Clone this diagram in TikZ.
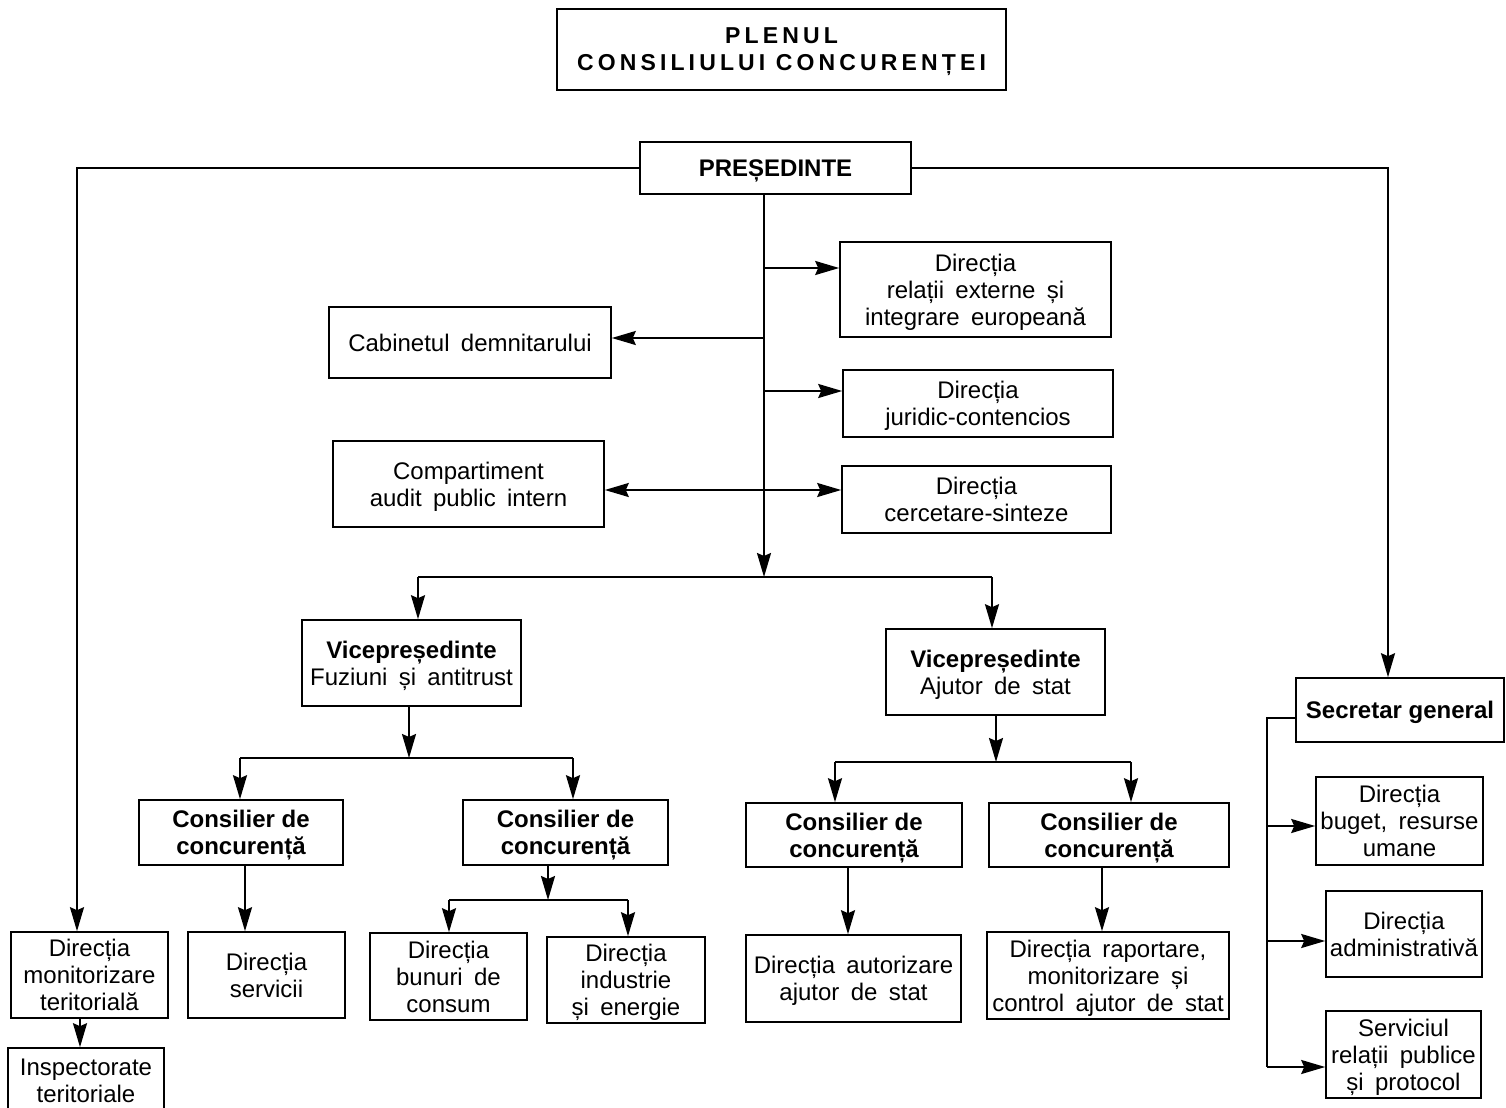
\documentclass[tikz,border=0pt]{standalone}
\usepackage{fontspec}
\setmainfont{Liberation Sans}[WordSpace=1.7,BoldFeatures={WordSpace=1}]
\usetikzlibrary{arrows.meta}

\begin{document}
\begin{tikzpicture}[x=0.5pt,y=-0.5pt,>={Stealth[length=12pt,width=7pt,inset=1.5pt]},
	box/.style={draw,line width=0.8pt,align=center,inner sep=1pt,text depth=0pt,font=\fontsize{12}{13.5}\selectfont},
	link/.style={line width=1pt}]
	\useasboundingbox (0,0) rectangle (1506,1108);
	% conducere
	\node[box,minimum width=224.5pt,minimum height=40.5pt,font=\fontsize{11.5}{13.5}\selectfont\bfseries\addfontfeature{LetterSpace=18}] (plen) at (781.5,49.5) {PLENUL\\CONSILIULUI CONCURENȚEI};
	\node[box,minimum width=135.5pt,minimum height=26pt,font=\fontsize{12}{13.5}\selectfont\bfseries] (pres) at (775.5,168) {PREȘEDINTE};
	% directii subordonate presedintelui
	\node[box,minimum width=135.5pt,minimum height=47.5pt] (relext) at (975.5,289.5) {Direcția\\relații externe și\\integrare europeană};
	\node[box,minimum width=141pt,minimum height=35.5pt] (cabinet) at (470,342.5) {Cabinetul demnitarului};
	\node[box,minimum width=135pt,minimum height=33.5pt] (juridic) at (978,403.5) {Direcția\\juridic-contencios};
	\node[box,minimum width=135.5pt,minimum height=43pt] (audit) at (468.5,484) {Compartiment\\audit public intern};
	\node[box,minimum width=134.5pt,minimum height=33.5pt] (cercet) at (976.5,499.5) {Direcția\\cercetare-sinteze};
	% vicepresedinti
	\node[box,minimum width=109.5pt,minimum height=43pt] (vicef) at (411.5,663) {\textbf{Vicepreședinte}\\Fuziuni și antitrust};
	\node[box,minimum width=109.5pt,minimum height=43pt] (vicea) at (995.5,672) {\textbf{Vicepreședinte}\\Ajutor de stat};
	% consilieri
	\node[box,minimum width=102pt,minimum height=32.5pt,font=\fontsize{12}{13.5}\selectfont\bfseries] (cons1) at (241,832.5) {Consilier de\\concurență};
	\node[box,minimum width=102.5pt,minimum height=32.5pt,font=\fontsize{12}{13.5}\selectfont\bfseries] (cons2) at (565.5,832.5) {Consilier de\\concurență};
	\node[box,minimum width=108pt,minimum height=32pt,font=\fontsize{12}{13.5}\selectfont\bfseries] (cons3) at (854,835) {Consilier de\\concurență};
	\node[box,minimum width=120pt,minimum height=32pt,font=\fontsize{12}{13.5}\selectfont\bfseries] (cons4) at (1109,835) {Consilier de\\concurență};
	% directii de specialitate
	\node[box,minimum width=78.5pt,minimum height=43pt] (monit) at (89.5,975) {Direcția\\monitorizare\\teritorială};
	\node[box,minimum width=78pt,minimum height=33pt] (insp) at (86,1081) {Inspectorate\\teritoriale};
	\node[box,minimum width=78.5pt,minimum height=43pt] (servicii) at (266.5,975) {Direcția\\servicii};
	\node[box,minimum width=78.5pt,minimum height=43.5pt] (bunuri) at (448.5,976.5) {Direcția\\bunuri de\\consum};
	\node[box,minimum width=79pt,minimum height=43pt] (industrie) at (626,980) {Direcția\\industrie\\și energie};
	\node[box,minimum width=107.5pt,minimum height=43.5pt] (autoriz) at (853.5,978.5) {Direcția autorizare\\ajutor de stat};
	\node[box,minimum width=121pt,minimum height=43.5pt] (raport) at (1108,975.5) {Direcția raportare,\\monitorizare și\\control ajutor de stat};
	% secretar general
	\node[box,minimum width=104pt,minimum height=32pt,font=\fontsize{12}{13.5}\selectfont\bfseries] (secgen) at (1400,710) {Secretar general};
	\node[box,minimum width=83.5pt,minimum height=44pt] (buget) at (1399.5,821) {Direcția\\buget, resurse\\umane};
	\node[box,minimum width=78pt,minimum height=43pt] (admin) at (1404,934) {Direcția\\administrativă};
	\node[box,minimum width=77.5pt,minimum height=43.5pt] (relpub) at (1403.5,1054.5) {Serviciul\\relații publice\\și protocol};

	% legaturi presedinte
	\coordinate (st) at (77,168);
	\coordinate (dr) at (1388,168);
	\draw[link,->] (pres.west) -- (st) -- (st |- monit.north);
	\draw[link,->] (pres.east) -- (dr) -- (dr |- secgen.north);
	\draw[link,->] ([xshift=-4.75pt]monit.south) -- ([xshift=-4.75pt]monit.south |- insp.north);
	\coordinate (tr) at (764,577);
	\draw[link,->] (pres.south -| tr) -- (tr);
	\coordinate (tr1) at (764,268);
	\coordinate (tr2) at (764,338);
	\coordinate (tr3) at (764,391);
	\coordinate (tr4) at (764,490);
	\draw[link,->] (tr1) -- (tr1 -| relext.west);
	\draw[link,->] (tr2) -- (tr2 -| cabinet.east);
	\draw[link,->] (tr3) -- (tr3 -| juridic.west);
	\draw[link,<->] (tr4 -| audit.east) -- (tr4 -| cercet.west);
	% vicepresedinti
	\coordinate (vf) at (418,577);
	\coordinate (va) at (992,577);
	\draw[link] (vf) -- (va);
	\draw[link,->] (vf) -- (vf |- vicef.north);
	\draw[link,->] (va) -- (va |- vicea.north);
	% fuziuni si antitrust
	\coordinate (f0) at (409,758);
	\coordinate (f1) at (240,758);
	\coordinate (f2) at (573,758);
	\draw[link,->] (vicef.south -| f0) -- (f0);
	\draw[link] (f1) -- (f2);
	\draw[link,->] (f1) -- (f1 |- cons1.north);
	\draw[link,->] (f2) -- (f2 |- cons2.north);
	% ajutor de stat
	\coordinate (a0) at (996,762);
	\coordinate (a1) at (835,762);
	\coordinate (a2) at (1131,762);
	\draw[link,->] (vicea.south -| a0) -- (a0);
	\draw[link] (a1) -- (a2);
	\draw[link,->] (a1) -- (a1 |- cons3.north);
	\draw[link,->] (a2) -- (a2 |- cons4.north);
	% consilieri - directii
	\coordinate (b0) at (548,900);
	\coordinate (b1) at (449,900);
	\coordinate (b2) at (628,900);
	\draw[link,->] ([xshift=2pt]cons1.south) -- ([xshift=2pt]cons1.south |- servicii.north);
	\draw[link,->] (cons2.south -| b0) -- (b0);
	\draw[link] (b1) -- (b2);
	\draw[link,->] (b1) -- (b1 |- bunuri.north);
	\draw[link,->] (b2) -- (b2 |- industrie.north);
	\draw[link,->] ([xshift=-3pt]cons3.south) -- ([xshift=-3pt]cons3.south |- autoriz.north);
	\draw[link,->] ([xshift=-3.5pt]cons4.south) -- ([xshift=-3.5pt]cons4.south |- raport.north);
	% secretar general
	\coordinate (sg) at (1267,718);
	\coordinate (sg1) at (1267,826);
	\coordinate (sg2) at (1267,941);
	\coordinate (sg3) at (1267,1067);
	\draw[link] (secgen.west |- sg) -- (sg) -- (sg3);
	\draw[link,->] (sg1) -- (sg1 -| buget.west);
	\draw[link,->] (sg2) -- (sg2 -| admin.west);
	\draw[link,->] (sg3) -- (sg3 -| relpub.west);
\end{tikzpicture}
\end{document}
